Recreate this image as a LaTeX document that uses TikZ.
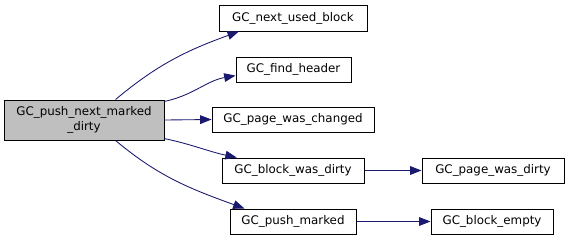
\documentclass[tikz,border=0pt]{standalone}
\usepackage{fontspec}
\setmainfont{DejaVu Sans}
\usetikzlibrary{arrows.meta}
\definecolor{edgeBlue}{RGB}{25,25,112}
\definecolor{rootGray}{RGB}{191,191,191}
\tikzset{
  box/.style={draw=black, line width=0.75pt, fill=white, align=center, inner sep=0pt, font=\fontsize{8.9}{11}\selectfont},
  mainbox/.style={box, fill=rootGray},
  flow/.style={-{Triangle[length=8.5pt,width=6.5pt]}, draw=edgeBlue, line width=0.65pt}
}
\begin{document}
\begin{tikzpicture}[x=0.75pt, y=-0.75pt]
  \useasboundingbox (0,0) rectangle (567,240);
  \node[mainbox, minimum width=120pt, minimum height=30pt] (push) at (84,120) {GC\_push\_next\_marked\\\_dirty};
  \node[box, minimum width=111pt, minimum height=19.5pt] (nextused) at (293,18) {GC\_next\_used\_block};
  \node[box, minimum width=86.25pt, minimum height=18.75pt] (findhdr) at (293.5,69.5) {GC\_find\_header};
  \node[box, minimum width=121.5pt, minimum height=18.75pt] (changed) at (293,119.5) {GC\_page\_was\_changed};
  \node[box, minimum width=106.5pt, minimum height=18.75pt] (blkdirty) at (293,170.5) {GC\_block\_was\_dirty};
  \node[box, minimum width=94.5pt, minimum height=18.75pt] (pushmk) at (293,221.5) {GC\_push\_marked};
  \node[box, minimum width=106.5pt, minimum height=18.75pt] (pgdirty) at (493,170.5) {GC\_page\_was\_dirty};
  \node[box, minimum width=91.5pt, minimum height=18.75pt] (blkempty) at (492,221.5) {GC\_block\_empty};
  \draw[flow] (push.33) to[out=40, in=200] (nextused.194);
  \draw[flow] (push.13) to[out=12, in=190] (findhdr.186);
  \draw[flow] (push.east) -- (changed.west);
  \draw[flow] (push.-13) to[out=-12, in=168] (blkdirty.167);
  \draw[flow] (push.-33) to[out=-40, in=160] (pushmk.165);
  \draw[flow] (blkdirty) -- (pgdirty);
  \draw[flow] (pushmk) -- (blkempty);
\end{tikzpicture}
\end{document}
